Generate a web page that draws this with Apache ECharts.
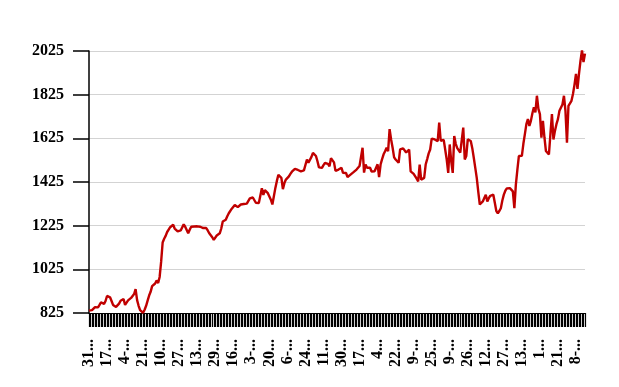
<!DOCTYPE html>
<html>
<head>
<meta charset="utf-8">
<script src="https://cdn.jsdelivr.net/npm/echarts@6/dist/echarts.min.js"></script>
<style>
html,body{margin:0;padding:0;background:#fff;}
#chart{width:619px;height:387px;}
</style>
</head>
<body>
<div id="chart"></div>
<script>
// Tick labels shown on the x axis (every 12th trading day)
const tickLabels = ['31-Dec-2019','17-Jan-2020','4-Feb-2020','21-Feb-2020','10-Mar-2020','27-Mar-2020','13-Apr-2020','29-Apr-2020','16-May-2020','3-Jun-2020','20-Jun-2020','6-Jul-2020','24-Jul-2020','11-Aug-2020','30-Aug-2020','17-Sep-2020','4-Oct-2020','22-Oct-2020','9-Nov-2020','25-Nov-2020','9-Dec-2020','26-Dec-2020','12-Jan-2021','27-Jan-2021','13-Feb-2021','1-Mar-2021','21-Mar-2021','8-Apr-2021'];

// Series values
const values = [
836,842,838,845,852,858,851,862,874,870,866,880,903,906,897,880,862,856,853,851,
868,881,878,889,862,871,883,889,894,899,912,934,884,858,838,829,826,840,858,882,
905,922,948,955,960,974,962,990,1060,1148,1165,1178,1196,1207,1218,1224,1229,1212,1204,1199,
1198,1203,1206,1231,1220,1212,1190,1206,1220,1219,1221,1220,1222,1219,1220,1218,1214,1212,1214,1203,
1190,1182,1172,1160,1168,1180,1184,1190,1212,1244,1248,1252,1268,1282,1290,1303,1308,1320,1316,1310,
1314,1322,1328,1324,1320,1326,1329,1350,1358,1354,1350,1330,1326,1329,1336,1396,1366,1388,1384,1374,
1366,1344,1322,1360,1398,1430,1458,1452,1444,1392,1420,1436,1444,1451,1462,1472,1476,1485,1484,1480,
1482,1474,1467,1478,1482,1528,1513,1520,1540,1558,1552,1544,1520,1492,1488,1490,1502,1512,1520,1508,
1497,1534,1530,1515,1476,1480,1482,1474,1490,1467,1474,1466,1448,1452,1459,1464,1470,1474,1482,1490,
1498,1506,1582,1468,1505,1490,1482,1490,1473,1472,1474,1482,1506,1447,1505,1530,1552,1566,1582,1566,
1667,1620,1582,1538,1528,1520,1513,1574,1576,1579,1570,1560,1558,1574,1474,1468,1462,1459,1440,1428,
1505,1436,1442,1444,1505,1530,1556,1574,1624,1622,1620,1614,1612,1697,1614,1620,1618,1620,1528,1467,
1597,1520,1467,1636,1600,1580,1574,1560,1551,1674,1528,1544,1620,1616,1613,1580,1536,1490,1443,1380,
1322,1320,1336,1352,1367,1336,1351,1362,1371,1367,1330,1292,1282,1292,1305,1340,1367,1385,1396,1398,
1397,1390,1382,1305,1413,1480,1544,1540,1545,1600,1644,1690,1713,1682,1705,1740,1767,1744,1820,1760,
1736,1628,1705,1630,1567,1560,1551,1644,1736,1620,1659,1690,1713,1751,1744,1780,1820,1751,1605,1774,
1780,1797,1828,1870,1920,1851,1920,1980,2028,1974,2013
];

// Y axis tick values
const yTicks = [825,1025,1225,1425,1625,1825,2025];

// Build full category list: anchors from tickLabels, in-between trading dates
const MON = ['Jan','Feb','Mar','Apr','May','Jun','Jul','Aug','Sep','Oct','Nov','Dec'];
function parseD(s){const p=s.split('-');return new Date(Date.UTC(+p[2],MON.indexOf(p[1]),+p[0]));}
function fmtD(d){return d.getUTCDate()+'-'+MON[d.getUTCMonth()]+'-'+d.getUTCFullYear();}
const categories = [];
for (let k=0;k<tickLabels.length;k++){
  categories.push(tickLabels[k]);
  const d0 = parseD(tickLabels[k]);
  const span = k<tickLabels.length-1 ? (parseD(tickLabels[k+1])-d0)/86400000 : 17;
  for (let j=1;j<12 && categories.length<values.length;j++){
    categories.push(fmtD(new Date(d0.getTime()+Math.round(j*span/12)*86400000)));
  }
}
categories.length = values.length;

const chart = echarts.init(document.getElementById('chart'), null, {renderer:'canvas'});
const font = 'Liberation Serif';
chart.setOption({
  animation:false,
  backgroundColor:'#fff',
  grid:{left:89,right:34,top:51,bottom:74,containLabel:false},
  xAxis:{
    type:'category',
    data:categories,
    boundaryGap:false,
    axisLine:{show:true,lineStyle:{color:'#000',width:1}},
    axisTick:{show:true,interval:0,length:14,lineStyle:{color:'#000',width:1.2}},
    axisLabel:{interval:11,rotate:90,margin:26,color:'#000',fontFamily:font,fontWeight:'bold',fontSize:16,width:30,overflow:'truncate',ellipsis:'...'},
    splitLine:{show:false}
  },
  yAxis:{
    type:'value',
    min:yTicks[0],
    max:yTicks[yTicks.length-1],
    interval:200,
    axisLine:{show:true,lineStyle:{color:'#000',width:1.5}},
    axisTick:{show:true,length:16,lineStyle:{color:'#000',width:1.5}},
    axisLabel:{margin:25,color:'#000',fontFamily:font,fontWeight:'bold',fontSize:16,formatter:function(v){return String(v);}},
    splitLine:{show:true,lineStyle:{color:'#d3d3d3',width:1}}
  },
  series:[{
    type:'line',
    data:values,
    showSymbol:false,
    symbol:'none',
    lineStyle:{color:'#c00000',width:2.4},
    itemStyle:{color:'#c00000'}
  }]
});
</script>
</body>
</html>
